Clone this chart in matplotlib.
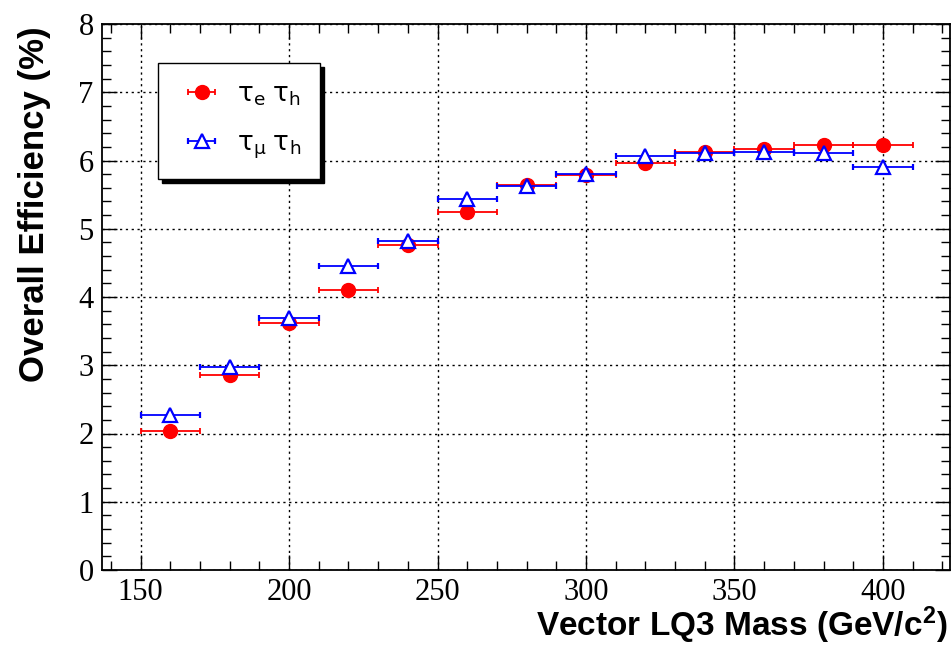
import numpy as np
import matplotlib
matplotlib.use("Agg")
import matplotlib.pyplot as plt
from matplotlib.ticker import MultipleLocator

# vector LQ3 mass points (GeV/c^2) and overall efficiency (%) per channel
mass = [160, 180, 200, 220, 240, 260, 280, 300, 320, 340, 360, 380, 400]
eff_etau = [2.04, 2.85, 3.62, 4.10, 4.76, 5.24, 5.64, 5.79, 5.96, 6.12, 6.17, 6.22, 6.23]
eff_mutau = [2.27, 2.97, 3.69, 4.46, 4.82, 5.44, 5.63, 5.80, 6.06, 6.11, 6.12, 6.11, 5.90]
bin_width = 20

plt.rcParams['mathtext.fontset'] = 'custom'
plt.rcParams['mathtext.rm'] = 'Liberation Sans'
plt.rcParams['mathtext.it'] = 'Liberation Sans'
plt.rcParams['mathtext.bf'] = 'Liberation Sans:bold'

fig = plt.figure(figsize=(9.52, 6.45), dpi=100)
ax = fig.add_axes([102 / 952, 75 / 645, 848 / 952, 546 / 645])

xerr = np.full(len(mass), bin_width / 2)
h1 = ax.errorbar(mass, eff_etau, xerr=xerr, fmt='o', color='red', ms=10,
                 elinewidth=1.3, capsize=2.5, capthick=1.3, zorder=3)
h2 = ax.errorbar(mass, eff_mutau, xerr=xerr, fmt='^', color='blue', mfc='white',
                 mec='blue', mew=1.6, ms=9.5, elinewidth=1.3, capsize=2.5,
                 capthick=1.3, zorder=4)

ax.set_xlim(137, 422.6)
ax.set_ylim(0, 8)
ax.xaxis.set_major_locator(MultipleLocator(50))
ax.xaxis.set_minor_locator(MultipleLocator(10))
ax.yaxis.set_major_locator(MultipleLocator(1))
ax.yaxis.set_minor_locator(MultipleLocator(0.2))

ax.tick_params(which='both', direction='in', top=True, right=True, width=1.0)
ax.tick_params(which='major', length=11)
ax.tick_params(which='minor', length=6.5)
ax.tick_params(axis='x', which='major', pad=6)
ax.tick_params(axis='y', which='major', pad=6)
for lab in ax.get_xticklabels() + ax.get_yticklabels():
    lab.set_family('Liberation Serif')
    lab.set_fontsize(22)
for sp in ax.spines.values():
    sp.set_linewidth(1.3)

ax.grid(True, which='major', color='black', linestyle=(0, (1.6, 2.6)), linewidth=1.0)
ax.set_axisbelow(True)

ax.set_xlabel('Vector LQ3 Mass (GeV/c$^{\\mathbf{2}}$)', loc='right',
              family='Liberation Sans', weight='bold', fontsize=24)
ax.set_ylabel('Overall Efficiency (%)', loc='top',
              family='Liberation Sans', weight='bold', fontsize=25)
ax.xaxis.set_label_coords(0.997, -0.064)
ax.yaxis.set_label_coords(-0.06, 0.995)

leg = ax.legend([h1, h2], ['$\\mathregular{\\tau_e\\ \\tau_h}$', '$\\mathregular{\\tau_\\mu\\ \\tau_h}$'],
                loc='upper left', bbox_to_anchor=(0.066, 0.929), borderaxespad=0,
                fontsize=19, frameon=True, fancybox=False, handlelength=1.9,
                handletextpad=0.4, labelspacing=0.85, borderpad=0.7,
                shadow={'color': 'black', 'alpha': 1.0, 'ox': 3, 'oy': -3})
leg.get_frame().set_edgecolor('black')
leg.get_frame().set_linewidth(1.0)

fig.savefig('out.png', dpi=100)
